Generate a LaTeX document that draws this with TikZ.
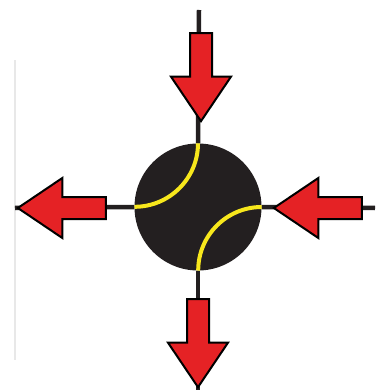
\documentclass[tikz,border=0pt]{standalone}
\usetikzlibrary{shapes.arrows}
\definecolor{flowRed}{HTML}{E52225}
\definecolor{arcYellow}{HTML}{F7E71C}
\definecolor{hubBlack}{HTML}{231F20}

\begin{document}
\begin{tikzpicture}[x=1pt, y=-1pt,
    flow/.style={single arrow, draw=black, fill=flowRed, line width=2pt,
      minimum height=88pt, minimum width=58pt, inner xsep=0pt, inner ysep=10pt,
      single arrow head extend=19pt, single arrow tip angle=68, line join=miter},
    wire/.style={hubBlack, line width=4.5pt},
    seam/.style={arcYellow, line width=4pt}]
    \useasboundingbox (0,0) rectangle (375,390);
    \draw[gray!18, line width=1.2pt] (15,60) -- (15,360);
    % hub and wire ends
    \node[circle, fill=hubBlack, minimum size=127pt, inner sep=0pt] (hub) at (198,207) {};
    \coordinate (topend) at (199,10);
    \coordinate (botend) at (198,390);
    \coordinate (lftend) at (15,208);
    \coordinate (rgtend) at (375,208);
    \draw[wire] (topend) -- (hub.north);
    \draw[wire] (hub.south) -- (botend);
    \draw[wire] (hub.west) -- (lftend);
    \draw[wire] (hub.east) -- (rgtend);
    % arrows
    \node[flow, rotate=-90] (intop) at (201,69) {};
    \node[flow, rotate=-90] (outbot) at (198,335) {};
    \node[flow, rotate=180] (outlft) at (70,208) {};
    \node[flow, rotate=180] (inrgt) at (326,208) {};
    % seams
    \draw[seam] (hub.north) arc[start angle=0, end angle=90, radius=63.5];
    \draw[seam] (hub.east) arc[start angle=-90, end angle=-180, radius=63.5];
\end{tikzpicture}
\end{document}
